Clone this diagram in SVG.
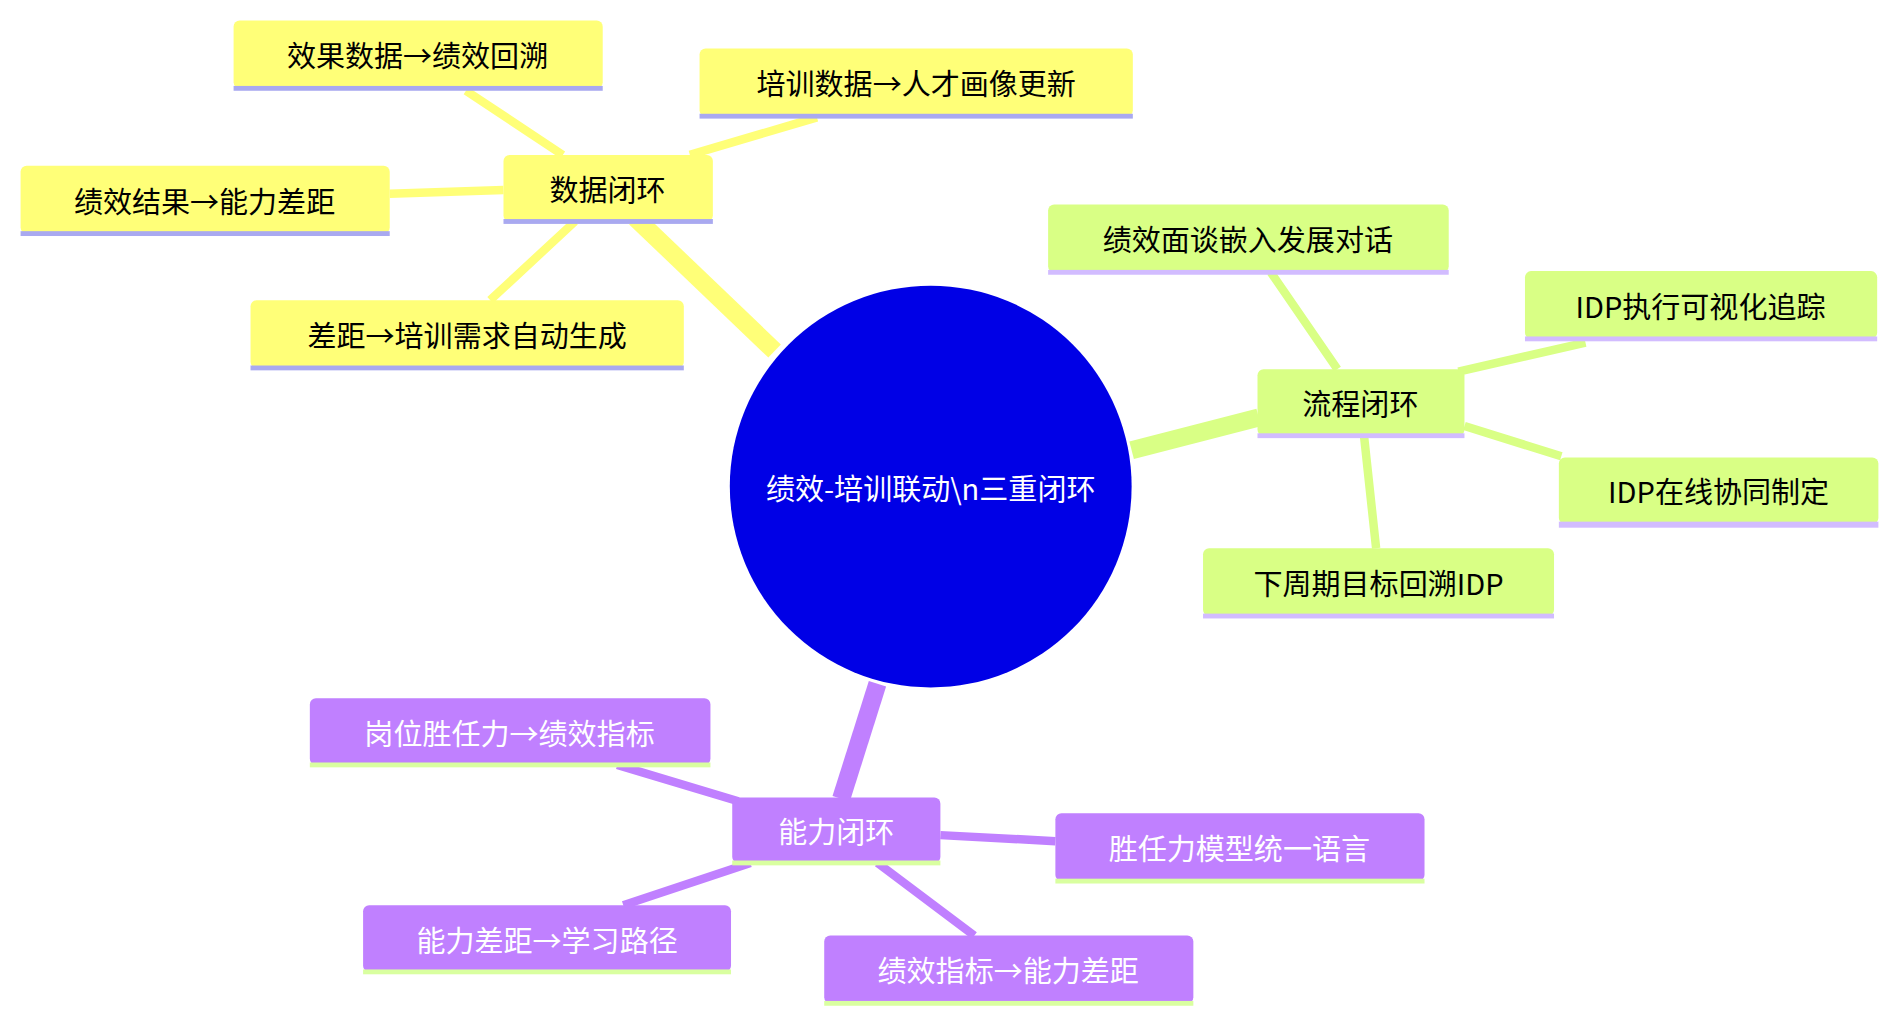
<svg xmlns="http://www.w3.org/2000/svg" width="1888" height="1019" viewBox="0 0 1888 1019">
<style>
text{font-family:"Noto Sans CJK SC","Noto Sans",sans-serif;font-size:24px;text-anchor:middle;dominant-baseline:central}
.y{fill:#ffff78}.g{fill:#d9ff85}.p{fill:#c080ff}
.uy{fill:#a9a9f0}.ug{fill:#d2bcff}.up{fill:#d9ffa0}
.ey{stroke:#ffff78}.eg{stroke:#d9ff85}.ep{stroke:#c080ff}
.w{fill:#fff}.k{fill:#000}
</style>
<rect width="1888" height="1019" fill="#fff"/>
<g transform="scale(1.2103)">
<g id="connectors" fill="none" stroke-linecap="butt">
<path class="ey" d="M640 290L525 180" stroke-width="15"/>
<path class="eg" d="M935 372L1040 345" stroke-width="15"/>
<path class="ep" d="M725 565L695 660" stroke-width="15"/>
<g stroke-width="7">
<path class="ey" d="M465 128L385 75M570 128L675 97M416 157L322 160M475 183L405 248"/>
<path class="eg" d="M1105 305L1050 225M1205 307L1310 283M1210 352L1290 377M1127 360L1137 453"/>
<path class="ep" d="M610 662L510 632M777 690L872 695M620 713L515 748M725 713L805 773"/>
</g>
</g>
<g id="root"><circle cx="769" cy="402" r="166" fill="#0000e6"/><text class="w" x="769" y="402">绩效-培训联动\n三重闭环</text></g>
<g id="n1"><rect class="y" x="416" y="128" width="173" height="55" rx="5"/><rect class="uy" x="416" y="181" width="173" height="4"/><text class="k" x="502" y="155">数据闭环</text></g>
<g id="n2"><rect class="y" x="193" y="17" width="305" height="56" rx="5"/><rect class="uy" x="193" y="71" width="305" height="4"/><text class="k" x="345" y="45">效果数据→绩效回溯</text></g>
<g id="n3"><rect class="y" x="578" y="40" width="358" height="56" rx="5"/><rect class="uy" x="578" y="94" width="358" height="4"/><text class="k" x="757" y="68">培训数据→人才画像更新</text></g>
<g id="n4"><rect class="y" x="17" y="137" width="305" height="56" rx="5"/><rect class="uy" x="17" y="191" width="305" height="4"/><text class="k" x="169" y="165">绩效结果→能力差距</text></g>
<g id="n5"><rect class="y" x="207" y="248" width="358" height="56" rx="5"/><rect class="uy" x="207" y="302" width="358" height="4"/><text class="k" x="386" y="276">差距→培训需求自动生成</text></g>
<g id="n6"><rect class="g" x="1039" y="305" width="171" height="55" rx="5"/><rect class="ug" x="1039" y="358" width="171" height="4"/><text class="k" x="1124" y="332">流程闭环</text></g>
<g id="n7"><rect class="g" x="866" y="169" width="331" height="56" rx="5"/><rect class="ug" x="866" y="223" width="331" height="4"/><text class="k" x="1031" y="197">绩效面谈嵌入发展对话</text></g>
<g id="n8"><rect class="g" x="1260" y="224" width="291" height="56" rx="5"/><rect class="ug" x="1260" y="278" width="291" height="4"/><text class="k" x="1405" y="252">IDP执行可视化追踪</text></g>
<g id="n9"><rect class="g" x="1288" y="378" width="264" height="55" rx="5"/><rect class="ug" x="1288" y="431" width="264" height="5"/><text class="k" x="1420" y="405">IDP在线协同制定</text></g>
<g id="n10"><rect class="g" x="994" y="453" width="290" height="56" rx="5"/><rect class="ug" x="994" y="507" width="290" height="4"/><text class="k" x="1139" y="481">下周期目标回溯IDP</text></g>
<g id="n11"><rect class="p" x="605" y="659" width="172" height="54" rx="5"/><rect class="up" x="605" y="711" width="172" height="4"/><text class="w" x="691" y="686">能力闭环</text></g>
<g id="n12"><rect class="p" x="256" y="577" width="331" height="55" rx="5"/><rect class="up" x="256" y="630" width="331" height="4"/><text class="w" x="421" y="605">岗位胜任力→绩效指标</text></g>
<g id="n13"><rect class="p" x="872" y="672" width="305" height="56" rx="5"/><rect class="up" x="872" y="726" width="305" height="4"/><text class="w" x="1024" y="700">胜任力模型统一语言</text></g>
<g id="n14"><rect class="p" x="300" y="748" width="304" height="55" rx="5"/><rect class="up" x="300" y="801" width="304" height="4"/><text class="w" x="452" y="776">能力差距→学习路径</text></g>
<g id="n15"><rect class="p" x="681" y="773" width="305" height="56" rx="5"/><rect class="up" x="681" y="827" width="305" height="4"/><text class="w" x="833" y="801">绩效指标→能力差距</text></g>
</g>
</svg>
